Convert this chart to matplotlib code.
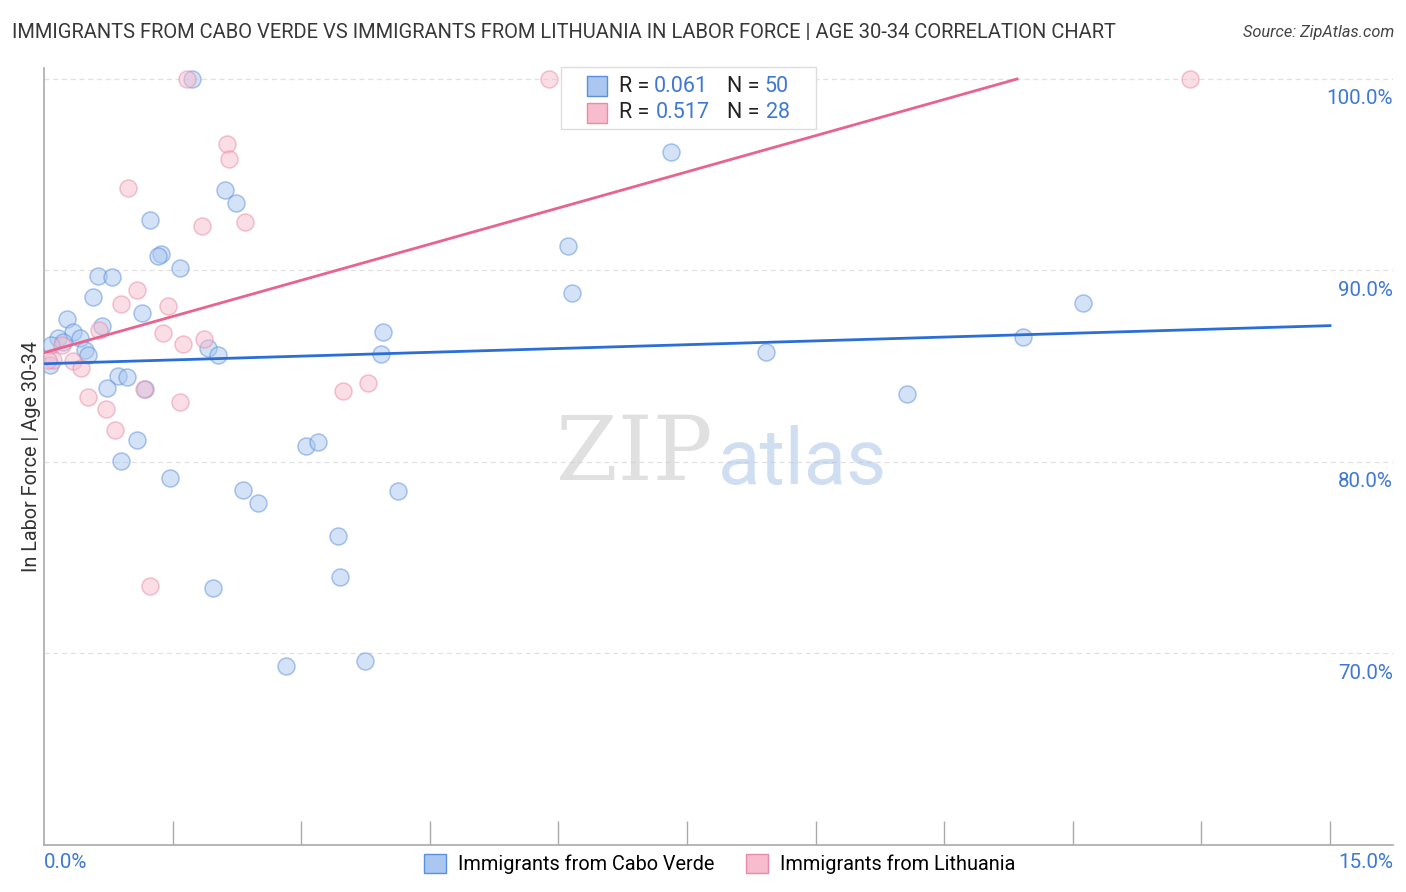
import matplotlib
matplotlib.use("Agg")
import matplotlib.pyplot as plt
from matplotlib.patches import Rectangle
import numpy as np

plt.rcParams['font.family'] = ['Roboto', 'DejaVu Sans']

# ---------------- data ----------------
cabo_x = [1.726, 6.322, 7.313, 2.111, 2.240, 1.236, 1.365, 1.330, 1.586, 0.630,
          0.793, 0.572, 1.143, 0.268, 0.677, 0.338, 0.163, 0.420, 0.222, 0.082,
          0.478, 0.513, 0.070, 1.913, 2.030, 3.954, 3.931, 6.112, 6.159, 8.421,
          11.419, 12.119, 10.066, 0.863, 0.968, 0.735, 1.178, 1.085, 0.898, 1.470,
          3.056, 3.196, 2.321, 2.496, 4.129, 3.429, 3.453, 1.971, 2.823, 3.744]
cabo_y = [100.0, 100.0, 96.19, 94.21, 93.53, 92.64, 90.87, 90.77, 90.14, 89.72,
          89.67, 88.63, 87.79, 87.48, 87.12, 86.80, 86.49, 86.49, 86.28, 86.12,
          85.86, 85.60, 85.08, 85.97, 85.60, 86.80, 85.65, 91.29, 88.84, 85.76,
          86.54, 88.31, 83.57, 84.51, 84.45, 83.88, 83.83, 81.17, 80.07, 79.19,
          80.86, 81.06, 78.56, 77.88, 78.46, 76.16, 73.97, 73.40, 69.33, 69.59]

lith_x = [1.668, 5.890, 13.367, 2.135, 2.158, 0.980, 1.843, 2.344, 1.085, 0.898,
          1.446, 1.388, 0.642, 1.621, 1.866, 0.210, 0.105, 0.338, 0.432, 0.513,
          0.723, 0.828, 1.166, 1.586, 3.488, 3.779, 1.236, 0.047]
lith_y = [100.0, 100.0, 100.0, 96.61, 95.83, 94.31, 92.33, 92.54, 88.99, 88.26,
          88.16, 86.75, 86.91, 86.18, 86.44, 86.12, 85.34, 85.29, 84.92, 83.41,
          82.79, 81.69, 83.83, 83.15, 83.72, 84.14, 73.50, 85.34]

# trend lines (intercept, slope)
cabo_trend = (85.13, 0.1327)
lith_trend = (85.71, 1.259)

stats_r = ["0.061", "0.517"]
stats_n = ["50", "28"]
series_names = ["Immigrants from Cabo Verde", "Immigrants from Lithuania"]

y_ticks = [70, 80, 90, 100]
y_ticklabels = ["70.0%", "80.0%", "90.0%", "100.0%"]
x_ticks = [1.5 * i for i in range(1, 11)]

# ---------------- style ----------------
blue_face = "#a9c7f0"
blue_edge = "#5a8fdc"
pink_face = "#f7bccd"
pink_edge = "#e88ba8"
blue_line = "#2a6ed6"
pink_line = "#e8638d"
tick_blue = "#3f78d4"

W, H = 1406, 892
fig = plt.figure(figsize=(W / 100, H / 100), dpi=100)
ax = fig.add_axes([44 / W, 47 / H, (1393 - 44) / W, (845 - 68) / H])

ax.set_xlim(0, 15 * (1393 - 44) / 1286)
ax.set_ylim(60, 100 + 11 / 19.17)

for yt in y_ticks:
    ax.axhline(yt, color="#e0e0e0", lw=0.9, ls=(0, (4, 3)), zorder=0)

ax.scatter(cabo_x, cabo_y, s=150, facecolor=blue_face, edgecolor=blue_edge,
           alpha=0.5, linewidth=1.1, zorder=3)
ax.scatter(lith_x, lith_y, s=150, facecolor=pink_face, edgecolor=pink_edge,
           alpha=0.5, linewidth=1.1, zorder=3)

xs = np.array([0, 15])
ax.plot(xs, cabo_trend[0] + cabo_trend[1] * xs, color=blue_line, lw=2, zorder=4)
x_end = (100 - lith_trend[0]) / lith_trend[1]
xp = np.array([0, x_end])
ax.plot(xp, lith_trend[0] + lith_trend[1] * xp, color=pink_line, lw=2, zorder=4)

for s in ["top", "right"]:
    ax.spines[s].set_visible(False)
ax.spines["left"].set_color("#aaaaaa")
ax.spines["bottom"].set_color("#aaaaaa")
ax.spines["left"].set_linewidth(1.2)
ax.spines["bottom"].set_linewidth(1.2)

ax.set_xticks(x_ticks)
ax.set_xticklabels([])
ax.tick_params(axis="x", direction="in", length=17, color="#aaaaaa", width=1)
ax.set_yticks([])

for yt, lab in zip(y_ticks, y_ticklabels):
    ax.annotate(lab, xy=(1.0, yt), xycoords=("axes fraction", "data"),
                xytext=(0, -7.5), textcoords="offset points",
                ha="right", va="top", fontsize=14.8, color=tick_blue)

fig.text(44 / W, 1 - 862 / H, "0.0%", ha="left", va="center", fontsize=14.8, color=tick_blue)
fig.text(1393 / W, 1 - 862 / H, "15.0%", ha="right", va="center", fontsize=14.8, color=tick_blue)

ax.set_ylabel("In Labor Force | Age 30-34", fontsize=14.3, color="#333333", labelpad=2)

# title and source
fig.text(12 / W, 1 - 33 / H,
         "IMMIGRANTS FROM CABO VERDE VS IMMIGRANTS FROM LITHUANIA IN LABOR FORCE | AGE 30-34 CORRELATION CHART",
         ha="left", va="center", fontsize=14.5, color="#383838")
fig.text(1394 / W, 1 - 33 / H, "Source: ZipAtlas.com", ha="right", va="center",
         fontsize=11.8, color="#444444", style="italic")

# watermark
fig.text(634 / W, 1 - 455 / H, "ZIP", fontsize=64, family="DejaVu Serif",
         color="#cccccc", alpha=0.6, ha="center", va="center", zorder=0)
fig.text(802 / W, 1 - 462 / H, "atlas", fontsize=56,
         color="#a9c3e6", alpha=0.55, ha="center", va="center", zorder=0)

# stats box
box = Rectangle((561 / W, 1 - 129 / H), (816 - 561) / W, (129 - 67) / H,
                transform=fig.transFigure, facecolor="white", edgecolor="#dddddd",
                lw=1, zorder=5)
fig.add_artist(box)
for i, (fc, ec) in enumerate([(blue_face, blue_edge), (pink_face, pink_edge)]):
    yc = [86, 113][i]
    sq = Rectangle((587 / W, 1 - (yc + 10) / H), 20 / W, 20 / H,
                   transform=fig.transFigure, facecolor=fc, edgecolor=ec, lw=1, zorder=6)
    fig.add_artist(sq)
    fig.text(619 / W, 1 - yc / H, "R = ", ha="left", va="center", fontsize=15.5,
             color="#222222", zorder=7)
    fig.text([654, 656][i] / W, 1 - yc / H, stats_r[i], ha="left", va="center",
             fontsize=15.5, color=tick_blue, zorder=7)
    fig.text(727 / W, 1 - yc / H, "N = ", ha="left", va="center", fontsize=15.5,
             color="#222222", zorder=7)
    fig.text([764, 766][i] / W, 1 - yc / H, stats_n[i], ha="left", va="center",
             fontsize=15.5, color=tick_blue, zorder=7)

# bottom legend
handles = [Rectangle((0, 0), 1, 1, facecolor=blue_face, edgecolor=blue_edge),
           Rectangle((0, 0), 1, 1, facecolor=pink_face, edgecolor=pink_edge)]
fig.legend(handles, series_names, loc="center", bbox_to_anchor=(720 / W, 1 - 864 / H),
           ncol=2, frameon=False, fontsize=14.3, handlelength=1.1, handleheight=1.1,
           columnspacing=1.6, handletextpad=0.6)

fig.savefig("out.png", dpi=100)
